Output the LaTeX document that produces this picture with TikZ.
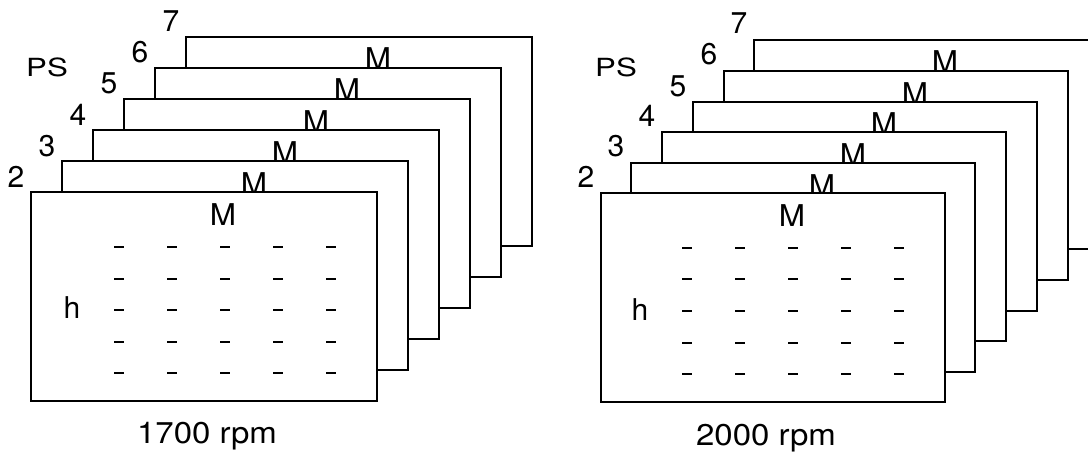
\documentclass[tikz,border=0pt]{standalone}
\usepackage{fontspec}
\setmainfont{TeX Gyre Heros}
\begin{document}
\begin{tikzpicture}[x=1pt,y=-1pt,
  sheet/.style={draw=black,fill=white,line width=2.2pt,minimum height=209pt,
                inner sep=0pt,outer sep=0pt,anchor=north west},
  txt/.style={font=\fontsize{30}{34}\selectfont,inner sep=0pt,anchor=base},
  small/.style={font=\fontsize{25}{29}\selectfont,inner sep=0pt,anchor=base},
  tick/.style={line width=2.6pt}]
\useasboundingbox (0,0) rectangle (1088,452);
\clip (0,0) rectangle (1088,452);
\fill[white] (0,0) rectangle (1088,452);

% ---- 1700 rpm: sheets PS = 7 (back) ... 2 (front)
\foreach \k in {5,4,3,2,1,0}{
  \pgfmathtruncatemacro\n{\k+2}
  \node[sheet,minimum width=346pt] (a\n) at ({31+31*\k},{192-31*\k}) {};
  \node[txt] (am\n) at ({31+31*\k+192},{192-31*\k+33}) {\scalebox{1.05}[1]{M}};
  \node[txt] (an\n) at ({31+31*\k-15},{192-31*\k-5}) {\n};
}
\foreach \cx in {119,172,225,278,331}
  \foreach \cy in {247,279,310,342,373}
    \draw[tick] ({\cx-5},\cy) -- ({\cx+5},\cy);
\node[small] (aps) at (47,77) {\scalebox{1.25}[1]{PS}};
\node[txt] (ah) at (72,318) {h};
\node[txt] (arpm) at (207,443) {\scalebox{1.1}[1]{1700 rpm}};

% ---- 2000 rpm
\foreach \k/\x/\y in {5/754/40,4/724/71,3/693/102,2/662/132,1/631/163,0/601/193}{
  \pgfmathtruncatemacro\n{\k+2}
  \node[sheet,minimum width=344pt] (b\n) at (\x,\y) {};
  \node[txt] (bm\n) at ({\x+191},{\y+33}) {\scalebox{1.05}[1]{M}};
  \node[txt] (bn\n) at ({\x-15},{\y-6}) {\n};
}
\foreach \cx in {687,740,793,846,899}
  \foreach \cy in {248,279,311,343,374}
    \draw[tick] ({\cx-5},\cy) -- ({\cx+5},\cy);
\node[small] (bps) at (616,77) {\scalebox{1.25}[1]{PS}};
\node[txt] (bh) at (640,320) {h};
\node[txt] (brpm) at (766,445) {\scalebox{1.1}[1]{2000 rpm}};
\end{tikzpicture}
\end{document}
